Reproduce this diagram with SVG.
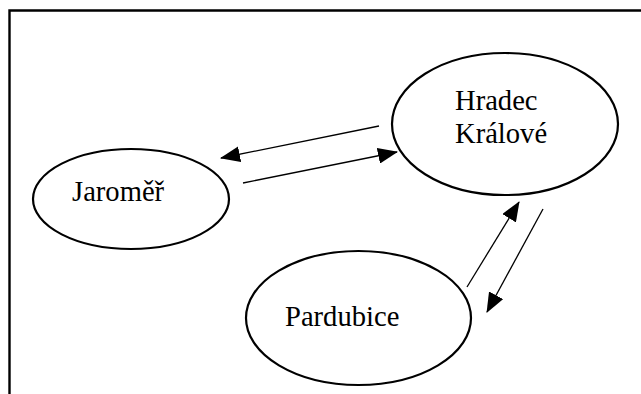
<svg xmlns="http://www.w3.org/2000/svg" width="641" height="394" viewBox="0 0 641 394">
  <style>
    .node ellipse { fill: #fff; stroke: #000; stroke-width: 2.2; }
    .node text { font-family: "Liberation Serif", "Times New Roman", serif; font-size: 28.6px; fill: #000; }
    .edge { stroke: #000; stroke-width: 1.3; fill: none; marker-end: url(#arrow); }
    .frame { stroke: #000; stroke-width: 2.4; fill: none; }
  </style>
  <defs>
    <marker id="arrow" markerUnits="userSpaceOnUse" markerWidth="20" markerHeight="16" viewBox="0 0 20 16" refX="19" refY="8" orient="auto">
      <path d="M0,0 L20,8 L0,16 Z" fill="#000"/>
    </marker>
  </defs>
  <rect width="641" height="394" fill="#fff"/>
  <!-- page frame (top and left edges only) -->
  <path class="frame" d="M9.5,394 L9.5,10.5 L641,10.5"/>

  <g id="connectors">
    <line class="edge" x1="379" y1="126" x2="221" y2="158"/>
    <line class="edge" x1="243" y1="183" x2="397" y2="152"/>
    <line class="edge" x1="467" y1="287" x2="519" y2="202"/>
    <line class="edge" x1="543" y1="209" x2="487" y2="312"/>
  </g>

  <g id="hradec-kralove" class="node">
    <ellipse cx="505" cy="124" rx="113" ry="71"/>
    <text x="455" y="110">Hradec</text>
    <text x="455" y="143">Králové</text>
  </g>

  <g id="jaromer" class="node">
    <ellipse cx="131" cy="199" rx="98" ry="50"/>
    <text x="72" y="201">Jaroměř</text>
  </g>

  <g id="pardubice" class="node">
    <ellipse cx="358.5" cy="318" rx="112.5" ry="67"/>
    <text x="285" y="326">Pardubice</text>
  </g>
</svg>
